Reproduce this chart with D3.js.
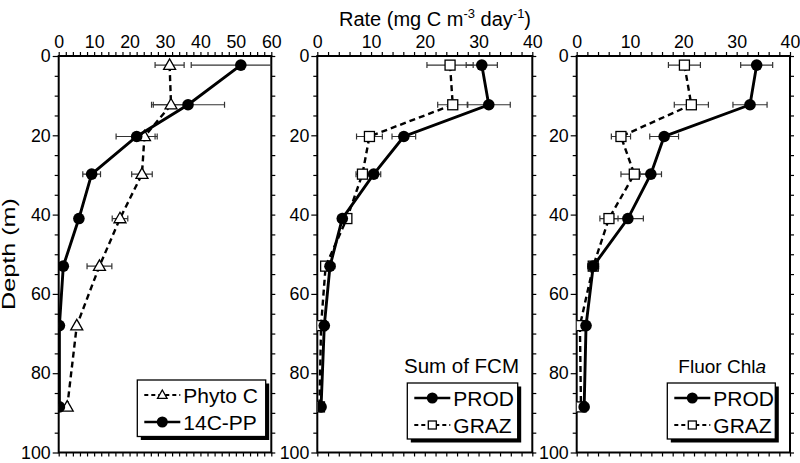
<!DOCTYPE html>
<html><head><meta charset="utf-8">
<script src="https://cdn.jsdelivr.net/npm/d3@7"></script>
<style>
body{margin:0;background:#fff;}
svg{display:block;}
text{font-family:"Liberation Sans",Arial,Helvetica,sans-serif;fill:#000;}
</style></head>
<body>
<svg id="chart" width="800" height="463"></svg>
<script>
// ---------- data ----------
const depth = [2.3, 12.3, 20.3, 29.8, 41, 53, 68, 88.5];

// panel 1
const phytoC    = [31.3, 31.7, 24.2, 23.5, 17.3, 11.5, 5.1, 2.4];
const phytoCErr = [4.1, 5.0, 3.0, 2.9, 2.2, 3.5, 0.5, 0.5];
const pp14C     = [51.4, 36.5, 22.0, 9.3, 5.7, 1.3, 0.2, 0.2];
const pp14CErr  = [14.0, 10.3, 5.8, 2.5, 1.0, 0.5, 0.3, 0.3];

// panel 2 (Sum of FCM)
const fcmProd    = [30.6, 31.9, 16.1, 10.5, 4.65, 2.36, 1.3, 0.7];
const fcmProdErr = [2.9, 4.0, 2.2, 1.3, 0.8, 0.9, 0.4, 0.3];
const fcmGraz    = [24.7, 25.2, 9.7, 8.4, 5.5, 1.55, 0.7, 0.4];
const fcmGrazErr = [4.3, 2.8, 2.4, 1.2, 0.7, 0.6, 0.3, 0.3];

// panel 3 (Fluor Chla)
const chlProd    = [33.75, 32.5, 16.4, 13.9, 9.6, 3.1, 1.75, 1.4];
const chlProdErr = [3.0, 3.2, 2.7, 2.0, 2.9, 1.0, 0.5, 0.3];
const chlGraz    = [20.2, 21.5, 8.3, 10.8, 6.05, 3.1, 0.6, 0.8];
const chlGrazErr = [3.0, 3.2, 1.8, 2.5, 1.7, 1.0, 0.4, 0.3];

const xMax = [60, 40, 40];
const depthTicks = [0, 20, 40, 60, 80, 100];
const legendLabels = [["Phyto C", "14C-PP"], ["PROD", "GRAZ"], ["PROD", "GRAZ"]];
const panelTitles = ["", "Sum of FCM", "Fluor Chl"];

// ---------- layout ----------
const svg = d3.select("#chart");
const Y0 = 56, Y1 = 452.5;
const panelX = [[58.7, 271.3], [317.3, 532.3], [576.7, 790]];
const y = d3.scaleLinear().domain([0, 100]).range([Y0, Y1]);

const series = [
  [ {v: phytoC, e: phytoCErr, dash: true, mark: "tri"},
    {v: pp14C, e: pp14CErr, dash: false, mark: "circ"} ],
  [ {v: fcmGraz, e: fcmGrazErr, dash: true, mark: "sq"},
    {v: fcmProd, e: fcmProdErr, dash: false, mark: "circ"} ],
  [ {v: chlGraz, e: chlGrazErr, dash: true, mark: "sq"},
    {v: chlProd, e: chlProdErr, dash: false, mark: "circ"} ]
];
const legendSeries = [
  [series[0][0], series[0][1]],
  [series[1][1], series[1][0]],
  [series[2][1], series[2][0]]
];
const legendBox = [
  {x: 137.3, y: 380, w: 128.4, h: 56.5},
  {x: 407.3, y: 383, w: 110.4, h: 56},
  {x: 667.3, y: 383, w: 108, h: 56}
];
const titlePos = [null, {x: 519, y: 373, fs: 20.5}, {x: 766, y: 373, fs: 19}];

function drawMarker(g, type, cx, cy, s) {
  if (type === "circ") {
    g.append("circle").attr("cx", cx).attr("cy", cy).attr("r", 5.8 * s).attr("fill", "#000");
  } else if (type === "tri") {
    const h = 10.5 * s, w = 12 * s;
    g.append("path")
      .attr("d", `M${cx},${cy - h * 0.6}L${cx + w / 2},${cy + h * 0.4}L${cx - w / 2},${cy + h * 0.4}Z`)
      .attr("fill", "#fff").attr("stroke", "#000").attr("stroke-width", 1.3);
  } else {
    const a = 10 * s;
    g.append("rect").attr("x", cx - a / 2).attr("y", cy - a / 2).attr("width", a).attr("height", a)
      .attr("fill", "#fff").attr("stroke", "#000").attr("stroke-width", 1.3);
  }
}

panelX.forEach((px, i) => {
  const x = d3.scaleLinear().domain([0, xMax[i]]).range(px);
  const g = svg.append("g");
  const clipId = "clip" + i;
  svg.append("clipPath").attr("id", clipId).append("rect")
    .attr("x", px[0]).attr("y", Y0).attr("width", px[1] - px[0]).attr("height", Y1 - Y0);

  // axes
  const xt = d3.range(0, xMax[i] + 0.001, 2);
  const top = g.append("g").attr("transform", `translate(0,${Y0})`)
    .call(d3.axisTop(x).tickValues(xt).tickSize(4).tickPadding(4)
      .tickFormat(d => d % 10 === 0 ? d : ""));
  const bot = g.append("g").attr("transform", `translate(0,${Y1})`)
    .call(d3.axisBottom(x).tickValues(xt).tickSize(4).tickFormat(""));
  const yt = d3.range(0, 100.001, 5);
  const left = g.append("g").attr("transform", `translate(${px[0]},0)`)
    .call(d3.axisLeft(y).tickValues(yt).tickSize(4).tickPadding(4)
      .tickFormat(d => depthTicks.includes(d) ? d : ""));
  const right = g.append("g").attr("transform", `translate(${px[1]},0)`)
    .call(d3.axisRight(y).tickValues(yt).tickSize(4).tickFormat(""));
  [top, bot, left, right].forEach(a => {
    a.select(".domain").remove();
    a.selectAll("line").attr("stroke", "#000").attr("stroke-width", 1.2);
    a.selectAll("text").attr("font-size", 17.8).attr("font-family", '"Liberation Sans",Arial,sans-serif').attr("fill", "#000");
  });
  left.selectAll(".tick").filter(d => depthTicks.includes(d)).select("line").attr("x2", -6);

  // frame
  g.append("rect").attr("x", px[0]).attr("y", Y0).attr("width", px[1] - px[0]).attr("height", Y1 - Y0)
    .attr("fill", "none").attr("stroke", "#000").attr("stroke-width", 2);

  const dg = g.append("g").attr("clip-path", `url(#${clipId})`);
  series[i].forEach(s => {
    // error bars
    s.v.forEach((v, k) => {
      const lo = x(v - s.e[k]), hi = x(v + s.e[k]), cy = y(depth[k]);
      dg.append("line").attr("x1", lo).attr("x2", hi).attr("y1", cy).attr("y2", cy)
        .attr("stroke", "#333").attr("stroke-width", 1.2);
      [lo, hi].forEach(xx => dg.append("line").attr("x1", xx).attr("x2", xx)
        .attr("y1", cy - 3).attr("y2", cy + 3).attr("stroke", "#333").attr("stroke-width", 1.2));
    });
  });
  series[i].forEach(s => {
    const line = d3.line().x(d => x(d[0])).y(d => y(d[1]));
    dg.append("path").datum(s.v.map((v, k) => [v, depth[k]]))
      .attr("d", line).attr("fill", "none").attr("stroke", "#000")
      .attr("stroke-width", s.dash ? 2.4 : 2.9)
      .attr("stroke-dasharray", s.dash ? "6,4" : null);
    s.v.forEach((v, k) => drawMarker(dg, s.mark, x(v), y(depth[k]), 1));
  });

  // legend
  const lb = legendBox[i];
  const lg = g.append("g");
  lg.append("rect").attr("x", lb.x + 3.5).attr("y", lb.y + 3.5).attr("width", lb.w).attr("height", lb.h).attr("fill", "#000");
  lg.append("rect").attr("x", lb.x).attr("y", lb.y).attr("width", lb.w).attr("height", lb.h)
    .attr("fill", "#fff").attr("stroke", "#000").attr("stroke-width", 1.3);
  legendSeries[i].forEach((s, k) => {
    const cy = lb.y + 15 + k * 27;
    lg.append("line").attr("x1", lb.x + 7).attr("x2", lb.x + 43).attr("y1", cy).attr("y2", cy)
      .attr("stroke", "#000").attr("stroke-width", s.dash ? 1.8 : 2.4)
      .attr("stroke-dasharray", s.dash ? "4,3" : null);
    drawMarker(lg, s.mark, lb.x + 25, cy, s.mark === "circ" ? 0.95 : 0.8);
    lg.append("text").attr("x", lb.x + 46).attr("y", cy + 7.5).attr("font-size", 21)
      .text(legendLabels[i][k]);
  });
  if (titlePos[i]) {
    const t = g.append("text").attr("x", titlePos[i].x).attr("y", titlePos[i].y)
      .attr("text-anchor", "end").attr("font-size", titlePos[i].fs).text(panelTitles[i]);
    if (i === 2) t.append("tspan").attr("font-style", "italic").text("a");
  }
});

// axis titles
const title = svg.append("text").attr("x", 435).attr("y", 26).attr("text-anchor", "middle").attr("font-size", 20);
title.append("tspan").text("Rate (mg C m");
title.append("tspan").attr("font-size", 13).attr("dy", -8).text("-3");
title.append("tspan").attr("dy", 8).text(" day");
title.append("tspan").attr("font-size", 13).attr("dy", -8).text("-1");
title.append("tspan").attr("dy", 8).text(")");

svg.append("text").attr("transform", "translate(14.5,254) rotate(-90)")
  .attr("text-anchor", "middle").attr("font-size", 17.5)
  .attr("textLength", 112).attr("lengthAdjust", "spacingAndGlyphs")
  .text("Depth (m)");
</script>
</body></html>
